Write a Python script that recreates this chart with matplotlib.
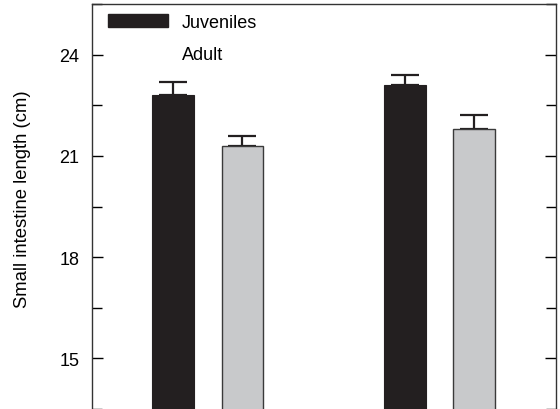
import matplotlib
matplotlib.use("Agg")
import matplotlib.pyplot as plt
from matplotlib.patches import Patch
import numpy as np

plt.rcParams['font.family'] = ['Liberation Sans', 'DejaVu Sans']

groups = ["Group 1", "Group 2"]
series = ["Juveniles", "Adult"]
juveniles = [22.8, 23.1]
juveniles_err = [0.4, 0.3]
adult = [21.3, 21.8]
adult_err = [0.3, 0.4]
yticks = [15, 18, 21, 24]

fig = plt.figure(figsize=(5.6, 4.1), dpi=100)
ax = fig.add_axes([92/560, 0.0, (556-92)/560, 1 - 5/410])

x = np.arange(len(groups))
off = 0.30
w = 0.181
ax.bar(x, juveniles, w, color='#231f20', edgecolor='#231f20', linewidth=0.8, zorder=2)
ax.bar(x + off, adult, w, color='#c8c9cb', edgecolor='#3a3a3a', linewidth=1.0, zorder=2)
ax.errorbar(x, juveniles, yerr=[np.zeros(2), juveniles_err], fmt='none',
            ecolor='#231f20', elinewidth=1.6, capsize=10, capthick=1.6, zorder=1)
ax.errorbar(x + off, adult, yerr=[np.zeros(2), adult_err], fmt='none',
            ecolor='#231f20', elinewidth=1.6, capsize=10, capthick=1.6, zorder=1)

ax.set_xlim(-0.35, 1.654)
ax.set_ylim(13.52, 25.5)
ax.set_yticks(yticks)
ax.set_yticks([13.5, 16.5, 19.5, 22.5, 25.5], minor=True)
ax.set_xticks([])
ax.spines['bottom'].set_visible(False)
for s in ['left', 'right', 'top']:
    ax.spines[s].set_linewidth(1.0)
    ax.spines[s].set_color('#333333')
ax.tick_params(axis='y', which='major', direction='in', length=8, width=1.0,
               right=True, labelsize=13, pad=9)
ax.tick_params(axis='y', which='minor', direction='in', length=7, width=1.0, right=True)
ax.set_ylabel("Small intestine length (cm)", fontsize=13.3)
ax.yaxis.set_label_coords(-(92 - 23) / 464, (410 - 199) / 405)
ax.yaxis.label.set_verticalalignment('center')

handles = [Patch(facecolor='#231f20', edgecolor='#231f20'),
           Patch(facecolor='white', edgecolor='white')]
ax.legend(handles, series, loc='upper left', bbox_to_anchor=(0.019, 0.993),
          frameon=False, fontsize=13, handlelength=3.3, handleheight=0.7,
          labelspacing=0.8, handletextpad=0.8, borderaxespad=0.0)

fig.savefig("out.png", dpi=100)
